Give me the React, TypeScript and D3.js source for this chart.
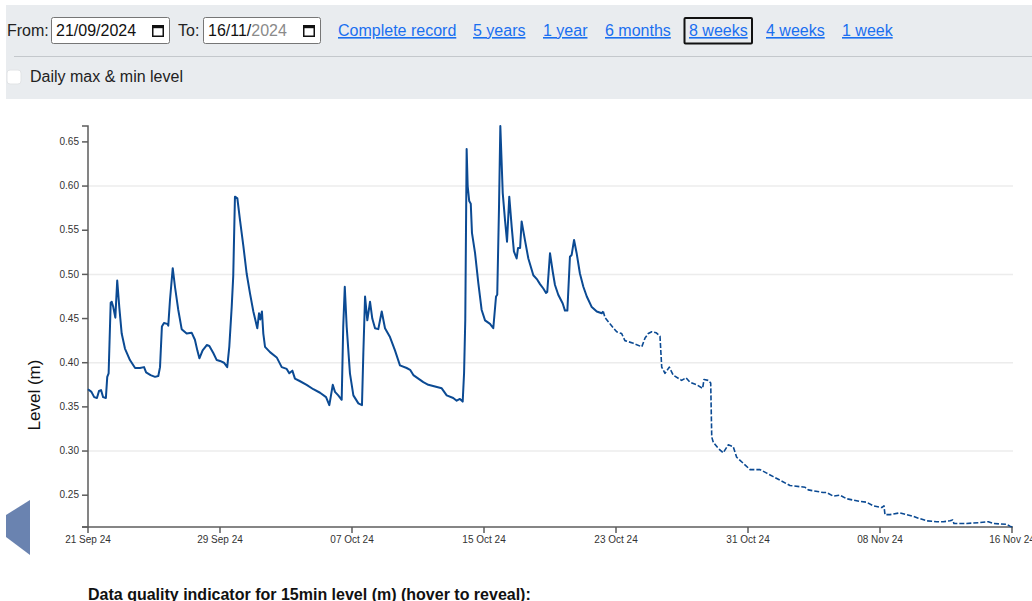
import React from "react";
import * as d3 from "d3";

// ---------- DATA ----------
const timestamps: string[] = [
  "2024-09-21 00:00","2024-09-21 05:00","2024-09-21 09:00","2024-09-21 13:00","2024-09-21 16:00","2024-09-21 19:00","2024-09-21 22:00",
  "2024-09-22 02:00","2024-09-22 04:00","2024-09-22 06:00","2024-09-22 09:00","2024-09-22 10:30","2024-09-22 12:45","2024-09-22 15:45","2024-09-22 18:30","2024-09-22 21:30",
  "2024-09-23 01:00","2024-09-23 05:45","2024-09-23 13:00","2024-09-23 20:30",
  "2024-09-24 03:30","2024-09-24 09:30","2024-09-24 12:30","2024-09-24 19:00",
  "2024-09-25 01:30","2024-09-25 06:15","2024-09-25 08:45","2024-09-25 11:30","2024-09-25 14:30","2024-09-25 19:15","2024-09-25 20:45","2024-09-25 23:15",
  "2024-09-26 03:15","2024-09-26 06:30","2024-09-26 11:15","2024-09-26 16:15","2024-09-26 23:30",
  "2024-09-27 06:45","2024-09-27 11:30","2024-09-27 15:00","2024-09-27 18:00","2024-09-27 22:45",
  "2024-09-28 04:45","2024-09-28 08:30","2024-09-28 14:15","2024-09-28 19:15",
  "2024-09-29 00:00","2024-09-29 05:45","2024-09-29 10:30","2024-09-29 13:30","2024-09-29 17:00","2024-09-29 19:15","2024-09-29 21:45",
  "2024-09-30 01:15","2024-09-30 05:00","2024-09-30 10:00","2024-09-30 14:45","2024-09-30 19:30",
  "2024-10-01 00:30","2024-10-01 06:15","2024-10-01 08:45","2024-10-01 10:30","2024-10-01 13:00","2024-10-01 15:00","2024-10-01 17:30",
  "2024-10-02 00:45","2024-10-02 10:30","2024-10-02 17:45",
  "2024-10-03 01:00","2024-10-03 04:45","2024-10-03 09:15","2024-10-03 13:00","2024-10-03 20:30",
  "2024-10-04 06:00","2024-10-04 15:45",
  "2024-10-05 01:30","2024-10-05 10:15","2024-10-05 15:00","2024-10-05 17:00","2024-10-05 20:00","2024-10-05 23:15",
  "2024-10-06 04:00","2024-10-06 09:00","2024-10-06 11:15","2024-10-06 13:30","2024-10-06 16:15","2024-10-06 21:00",
  "2024-10-07 02:00","2024-10-07 09:15","2024-10-07 14:30","2024-10-07 16:30","2024-10-07 19:00","2024-10-07 22:15",
  "2024-10-08 02:15","2024-10-08 05:30","2024-10-08 09:30","2024-10-08 14:15","2024-10-08 19:15",
  "2024-10-09 00:00","2024-10-09 07:15","2024-10-09 14:30","2024-10-09 21:45",
  "2024-10-10 07:30","2024-10-10 12:30","2024-10-10 17:15",
  "2024-10-11 00:30","2024-10-11 07:45","2024-10-11 15:00",
  "2024-10-12 00:45","2024-10-12 10:30","2024-10-12 17:45",
  "2024-10-13 03:15","2024-10-13 08:15","2024-10-13 13:00","2024-10-13 17:00","2024-10-13 19:00","2024-10-13 20:45","2024-10-13 22:45",
  "2024-10-14 00:15","2024-10-14 02:30","2024-10-14 04:45","2024-10-14 06:30","2024-10-14 11:00","2024-10-14 15:45","2024-10-14 20:30",
  "2024-10-15 01:30","2024-10-15 08:45","2024-10-15 13:30","2024-10-15 17:30","2024-10-15 19:15","2024-10-15 21:45","2024-10-15 23:45",
  "2024-10-16 03:15","2024-10-16 06:30","2024-10-16 09:30","2024-10-16 12:45","2024-10-16 16:15","2024-10-16 19:30","2024-10-16 23:30",
  "2024-10-17 01:30","2024-10-17 04:30","2024-10-17 06:45","2024-10-17 11:30","2024-10-17 16:30","2024-10-17 23:45",
  "2024-10-18 05:30","2024-10-18 09:30","2024-10-18 14:15","2024-10-18 18:15","2024-10-18 20:00",
  "2024-10-19 00:00","2024-10-19 04:00","2024-10-19 07:15","2024-10-19 12:00","2024-10-19 18:30","2024-10-19 21:45",
  "2024-10-20 01:15","2024-10-20 05:00","2024-10-20 07:30","2024-10-20 11:00","2024-10-20 14:45","2024-10-20 19:30",
  "2024-10-21 00:30","2024-10-21 05:30","2024-10-21 12:45","2024-10-21 20:00",
  "2024-10-22 03:15","2024-10-22 05:30","2024-10-22 08:00","2024-10-22 15:15",
  "2024-10-23 01:00","2024-10-23 08:15","2024-10-23 13:00",
  "2024-10-24 01:15","2024-10-24 13:30","2024-10-24 18:15","2024-10-24 23:00",
  "2024-10-25 04:00","2024-10-25 10:15","2024-10-25 16:00","2024-10-25 18:30","2024-10-25 23:15",
  "2024-10-26 05:30","2024-10-26 11:15","2024-10-26 23:30",
  "2024-10-27 05:45","2024-10-27 11:30","2024-10-27 21:30",
  "2024-10-28 06:00","2024-10-28 08:00","2024-10-28 14:15","2024-10-28 17:45","2024-10-28 19:15","2024-10-28 21:30",
  "2024-10-29 04:45","2024-10-29 12:00","2024-10-29 19:15",
  "2024-10-30 02:30","2024-10-30 07:30","2024-10-30 17:15",
  "2024-10-31 03:00","2024-10-31 17:30",
  "2024-11-01 03:15","2024-11-01 12:45","2024-11-01 22:30",
  "2024-11-02 13:00","2024-11-03 11:00","2024-11-03 15:45",
  "2024-11-04 13:30","2024-11-04 18:30",
  "2024-11-05 04:00","2024-11-05 13:45","2024-11-05 23:30",
  "2024-11-06 18:45","2024-11-07 04:45","2024-11-07 14:15",
  "2024-11-08 02:30","2024-11-08 05:45","2024-11-08 07:15","2024-11-08 14:30",
  "2024-11-09 05:00","2024-11-09 14:45",
  "2024-11-10 00:30","2024-11-10 07:45","2024-11-10 20:00",
  "2024-11-11 10:30","2024-11-11 20:00",
  "2024-11-12 05:45","2024-11-12 09:45","2024-11-12 11:30",
  "2024-11-13 06:00","2024-11-14 01:30","2024-11-14 13:30","2024-11-14 20:45",
  "2024-11-15 16:15","2024-11-15 21:00","2024-11-16 00:00",
];

const levels: number[] = [
  0.370,0.367,0.361,0.360,0.368,0.369,0.361,
  0.360,0.384,0.388,0.468,0.469,0.463,0.451,0.493,0.463,
  0.433,0.416,0.403,0.394,
  0.394,0.395,0.389,0.386,
  0.384,0.385,0.395,0.441,0.445,0.444,0.442,0.471,
  0.507,0.486,0.460,0.438,0.433,
  0.434,0.426,0.414,0.405,0.414,
  0.420,0.419,0.411,0.403,
  0.402,0.400,0.395,0.418,0.463,0.498,0.588,
  0.586,0.562,0.532,0.501,0.479,
  0.458,0.439,0.456,0.449,0.458,0.433,0.418,
  0.412,0.406,0.395,
  0.393,0.388,0.391,0.382,0.379,
  0.375,0.370,
  0.366,0.361,0.352,0.361,0.375,0.367,
  0.363,0.358,0.441,0.486,0.441,0.388,
  0.363,0.354,0.352,0.411,0.475,0.448,
  0.469,0.450,0.439,0.438,0.458,
  0.439,0.429,0.414,0.397,
  0.394,0.392,0.386,
  0.382,0.378,0.375,
  0.373,0.371,0.363,
  0.360,0.357,0.359,0.356,0.388,0.448,0.642,
  0.600,0.583,0.580,0.547,0.524,0.490,0.460,
  0.448,0.444,0.439,0.475,0.477,0.573,0.668,
  0.592,0.562,0.537,0.588,0.554,0.526,0.518,
  0.530,0.530,0.560,0.539,0.518,0.499,
  0.494,0.489,0.484,0.479,0.480,
  0.524,0.503,0.488,0.477,0.467,0.459,
  0.459,0.520,0.522,0.539,0.524,0.501,
  0.486,0.475,0.463,0.458,
  0.456,0.458,0.451,0.444,
  0.435,0.433,0.425,
  0.422,0.418,0.428,0.433,
  0.435,0.434,0.430,0.395,0.388,
  0.395,0.386,0.380,
  0.383,0.378,0.375,
  0.371,0.381,0.380,0.377,0.316,0.310,
  0.303,0.298,0.307,
  0.305,0.293,0.286,
  0.279,0.279,
  0.275,0.271,0.267,
  0.261,0.259,0.256,
  0.253,0.253,
  0.249,0.250,0.246,
  0.243,0.242,0.238,
  0.236,0.238,0.228,0.228,
  0.230,0.228,
  0.226,0.224,0.221,
  0.220,0.220,
  0.221,0.222,0.218,
  0.218,0.219,0.220,0.218,
  0.217,0.215,0.214,
];

// data after this time is drawn dashed (unchecked data)
const dashedFrom = "2024-10-22 05:30";

const xTickDates = ["2024-09-21","2024-09-29","2024-10-07","2024-10-15","2024-10-23","2024-10-31","2024-11-08","2024-11-16"];
const yTickValues = [0.25, 0.30, 0.35, 0.40, 0.45, 0.50, 0.55, 0.60, 0.65];
const gridValues = [0.30, 0.40, 0.50, 0.60];

const fromDate = "21/09/2024";
const toDateDayMonth = "16/11/";
const toDateYear = "2024";
const periodLinks = ["Complete record", "5 years", "1 year", "6 months", "8 weeks", "4 weeks", "1 week"];
const activeLink = "8 weeks";

// ---------- LAYOUT ----------
const W = 1032;
const H = 601;
const FONT = "'Liberation Sans', Arial, Helvetica, sans-serif";
const LINE_COLOR = "#0b4a93";
const LINK_COLOR = "#1a6ff0";
const linkX = [338, 473, 543, 605, 689, 766, 842];

const parseTime = d3.timeParse("%Y-%m-%d %H:%M");
const parseDay = d3.timeParse("%Y-%m-%d");
const fmtX = d3.timeFormat("%d %b %y");
const fmtY = d3.format(".2f");

type Pt = { t: Date; v: number };

function CalendarIcon({ x, y }: { x: number; y: number }) {
  return (
    <g>
      <rect x={x + 0.75} y={y + 0.75} width={10.5} height={10.5} fill="none" stroke="#111" strokeWidth={1.5} />
      <rect x={x} y={y} width={12} height={3.2} fill="#111" />
    </g>
  );
}

export default function App() {
  const data: Pt[] = timestamps.map((s, i) => ({ t: parseTime(s) as Date, v: levels[i] }));
  const cut = parseTime(dashedFrom) as Date;
  const solid = data.filter((d) => d.t <= cut);
  const dashed = data.filter((d) => d.t >= cut);

  const left = 88, right = 1012, top = 126, bottom = 527;
  const x = d3.scaleTime().domain(d3.extent(data, (d) => d.t) as [Date, Date]).range([left, right]);
  const y = d3.scaleLinear().domain(d3.extent(data, (d) => d.v) as [number, number]).range([bottom, top]);
  const line = d3.line<Pt>().x((d) => x(d.t)).y((d) => y(d.v));

  const xTicks = xTickDates.map((s) => parseDay(s) as Date);

  return (
    <svg width={W} height={H} style={{ position: "absolute", left: 0, top: 0, fontFamily: FONT }}>
      <rect x={0} y={0} width={W} height={H} fill="#fff" />
      {/* control panel */}
      <rect x={6} y={5} width={W - 6} height={94} fill="#e9ecef" />
      <text x={7} y={36} fontSize={16} fill="#222">From:</text>
      <rect x={51.5} y={17.5} width={118} height={26} rx={2} fill="#fff" stroke="#767676" />
      <text x={56} y={36} fontSize={16} fill="#111">{fromDate}</text>
      <CalendarIcon x={152} y={25} />
      <text x={178} y={36} fontSize={16} fill="#222">To:</text>
      <rect x={203.5} y={17.5} width={117} height={26} rx={2} fill="#fff" stroke="#767676" />
      <text x={208} y={36} fontSize={16} fill="#111">
        {toDateDayMonth}
        <tspan fill="#8a8a8a">{toDateYear}</tspan>
      </text>
      <CalendarIcon x={303} y={25} />
      {periodLinks.map((l, i) => (
        <g key={l}>
          {l === activeLink && (
            <rect x={684.5} y={18} width={67.5} height={25.5} fill="none" stroke="#111" strokeWidth={2} rx={1} />
          )}
          <text x={linkX[i]} y={36} fontSize={16} fill={LINK_COLOR} style={{ textDecoration: "underline" }}>
            {l}
          </text>
        </g>
      ))}
      <line x1={14} x2={W} y1={56.5} y2={56.5} stroke="#c4c8cc" strokeWidth={1} />
      <rect x={7} y={70} width={14} height={14} rx={3} fill="#fff" stroke="#e2e4e6" />
      <text x={30} y={82} fontSize={16} fill="#222">Daily max &amp; min level</text>

      {/* gridlines */}
      {gridValues.map((g) => (
        <line key={g} x1={left} x2={right + 1} y1={y(g)} y2={y(g)} stroke="#ececec" strokeWidth={1.5} />
      ))}

      {/* y axis */}
      <path d={`M${left - 6},${top}H${left}V${bottom}H${left - 6}`} fill="none" stroke="#5c5c5c" strokeWidth={1.5} />
      {yTickValues.map((v) => (
        <g key={v} transform={`translate(0,${y(v)})`}>
          <line x1={left - 6} x2={left} stroke="#5c5c5c" strokeWidth={1.5} />
          <text x={left - 9} dy="0.32em" textAnchor="end" fontSize={10} fill="#333">{fmtY(v)}</text>
        </g>
      ))}
      <text transform={`translate(40,395) rotate(-90)`} textAnchor="middle" fontSize={17} fill="#111">Level (m)</text>

      {/* x axis */}
      <line x1={left - 6} x2={right + 1} y1={bottom} y2={bottom} stroke="#5c5c5c" strokeWidth={1.5} />
      {xTicks.map((t) => (
        <g key={t.getTime()} transform={`translate(${x(t)},0)`}>
          <line y1={bottom} y2={bottom + 6} stroke="#5c5c5c" strokeWidth={1.5} />
          <text y={bottom + 9} dy="0.71em" textAnchor="middle" fontSize={10} fill="#333">{fmtX(t)}</text>
        </g>
      ))}

      {/* series */}
      <path d={line(solid) || ""} fill="none" stroke={LINE_COLOR} strokeWidth={2} strokeLinejoin="round" />
      <path d={line(dashed) || ""} fill="none" stroke={LINE_COLOR} strokeWidth={1.6} strokeDasharray="5,2" strokeLinejoin="round" />

      {/* left navigation arrow */}
      <polygon points="30,500 6,515 6,537 30,555" fill="#6a83b0" />

      <text x={88} y={600} fontSize={16} fontWeight="bold" fill="#111">
        Data quality indicator for 15min level (m) (hover to reveal):
      </text>
    </svg>
  );
}
